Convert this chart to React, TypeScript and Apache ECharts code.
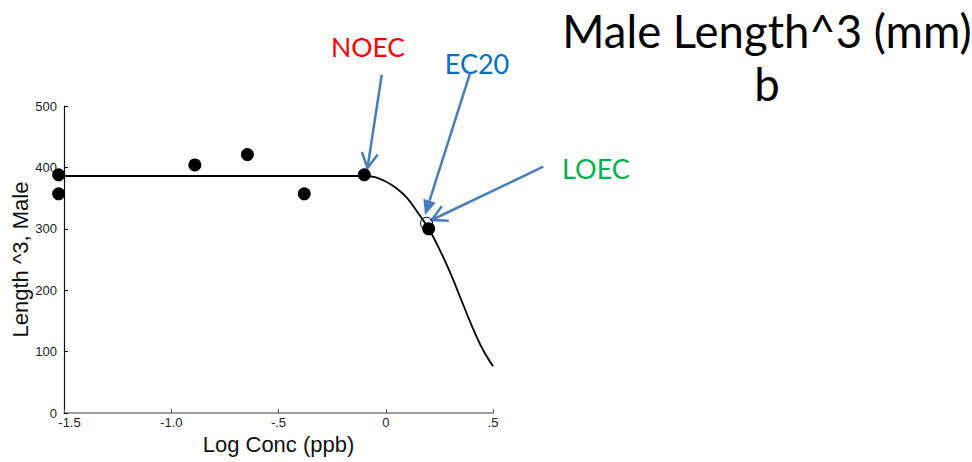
import React, { useEffect, useRef } from "react";
import * as echarts from "echarts";

const obsX = [-1.525, -1.525, -0.89, -0.645, -0.38, -0.1, 0.2];
const obsY = [388, 357, 404, 421, 357, 388, 300];
const curveX = [-1.5, -1.0, -0.5, -0.1, -0.05, 0, 0.05, 0.1, 0.15, 0.2, 0.25, 0.3, 0.35, 0.4, 0.45, 0.5];
const curveY = [386, 386, 386, 386, 384, 377, 366, 350, 326, 300, 267, 229, 186, 143, 105, 76];
const ec20X = [0.19];
const ec20Y = [309];
const xTicks = [-1.5, -1.0, -0.5, 0, 0.5];
const xTickLabels = ["-1.5", "-1.0", "-.5", "0", ".5"];
const yTicks = [0, 100, 200, 300, 400, 500];

const ARROW = "#4A7EBB";

function arrow(x1: number, y1: number, x2: number, y2: number, filled: boolean) {
  const dx = x2 - x1;
  const dy = y2 - y1;
  const len = Math.sqrt(dx * dx + dy * dy);
  const ux = dx / len;
  const uy = dy / len;
  const px = -uy;
  const py = ux;
  const hl = 15;
  const hw = filled ? 6.5 : 8;
  const bx = x2 - ux * hl;
  const by = y2 - uy * hl;
  const els: any[] = [];
  const shaftEndX = filled ? bx : x2;
  const shaftEndY = filled ? by : y2;
  els.push({
    type: "line",
    shape: { x1, y1, x2: shaftEndX, y2: shaftEndY },
    style: { stroke: ARROW, lineWidth: 2.5 },
  });
  if (filled) {
    els.push({
      type: "polygon",
      shape: {
        points: [
          [x2, y2],
          [bx + px * hw, by + py * hw],
          [bx - px * hw, by - py * hw],
        ],
      },
      style: { fill: ARROW },
    });
  } else {
    els.push({
      type: "polyline",
      shape: {
        points: [
          [bx + px * hw, by + py * hw],
          [x2, y2],
          [bx - px * hw, by - py * hw],
        ],
      },
      style: { stroke: ARROW, lineWidth: 2.5, fill: "none" },
    });
  }
  return els;
}

export default function App() {
  const ref = useRef<HTMLDivElement>(null);
  useEffect(() => {
    if (!ref.current) return;
    const chart = echarts.init(ref.current, undefined, { renderer: "svg" });
    const curve = curveX.map((x, i) => [x, curveY[i]]);
    const obs = obsX.map((x, i) => [x, obsY[i]]);
    const ec = ec20X.map((x, i) => [x, ec20Y[i]]);
    const axisFont = "Liberation Sans";
    chart.setOption({
      animation: false,
      backgroundColor: "#ffffff",
      grid: { left: 64, top: 106, right: 479, bottom: 49, containLabel: false },
      xAxis: {
        type: "value",
        min: -1.5,
        max: 0.5,
        interval: 0.5,
        splitLine: { show: false },
        axisLine: { show: true, onZero: false, lineStyle: { color: "#7f7f7f", width: 1.5 } },
        axisTick: { show: true, inside: true, length: 4, lineStyle: { color: "#555" } },
        axisLabel: {
          color: "#222",
          fontFamily: axisFont,
          fontSize: 13,
          margin: 3,
          formatter: (v: number) => {
            const i = xTicks.findIndex((t) => Math.abs(t - v) < 1e-6);
            if (i < 0) return "";
            return i === 0 ? "{first|" + xTickLabels[i] + "}" : xTickLabels[i];
          },
          rich: {
            first: { fontFamily: axisFont, fontSize: 13, color: "#222", padding: [0, 0, 0, 11] },
          },
        },
        name: "Log Conc (ppb)",
        nameLocation: "middle",
        nameGap: 16,
        nameTextStyle: { fontFamily: axisFont, fontSize: 22, color: "#111" },
      },
      yAxis: {
        type: "value",
        min: yTicks[0],
        max: yTicks[yTicks.length - 1],
        interval: 100,
        splitLine: { show: false },
        axisLine: { show: true, onZero: false, lineStyle: { color: "#111", width: 1.2 } },
        axisTick: { show: true, inside: true, length: 4, lineStyle: { color: "#111" } },
        axisLabel: { color: "#222", fontFamily: axisFont, fontSize: 13, margin: 7 },
        name: "Length ^3, Male",
        nameLocation: "middle",
        nameGap: 30,
        nameTextStyle: { fontFamily: axisFont, fontSize: 22, color: "#111" },
      },
      series: [
        {
          type: "line",
          data: curve,
          smooth: 0.4,
          symbol: "none",
          lineStyle: { color: "#000", width: 1.8 },
          z: 2,
        },
        {
          type: "scatter",
          data: ec,
          symbol: "circle",
          symbolSize: 12,
          itemStyle: { color: "rgba(255,255,255,0)", borderColor: "#000", borderWidth: 1, opacity: 1 },
          z: 3,
          clip: false,
        },
        {
          type: "scatter",
          data: obs,
          symbol: "circle",
          symbolSize: 13,
          itemStyle: { color: "#000", opacity: 1 },
          z: 4,
          clip: false,
        },
      ],
      graphic: [
        {
          type: "text",
          x: 767,
          y: 30,
          style: {
            text: "Male Length^3 (mm)",
            fontFamily: "Lato",
            fontSize: 45.5,
            fill: "#000",
            textAlign: "center",
            textVerticalAlign: "middle",
          },
        },
        {
          type: "text",
          x: 767,
          y: 83,
          style: {
            text: "b",
            fontFamily: "Lato",
            fontSize: 45.5,
            fill: "#000",
            textAlign: "center",
            textVerticalAlign: "middle",
          },
        },
        {
          type: "text",
          x: 368,
          y: 47,
          style: { text: "NOEC", fontFamily: "Lato", fontSize: 26.5, fill: "#FF0000", textAlign: "center", textVerticalAlign: "middle" },
        },
        {
          type: "text",
          x: 477,
          y: 63,
          style: { text: "EC20", fontFamily: "Lato", fontSize: 27, fill: "#0070C0", textAlign: "center", textVerticalAlign: "middle" },
        },
        {
          type: "text",
          x: 596,
          y: 168,
          style: { text: "LOEC", fontFamily: "Lato", fontSize: 27, fill: "#00B050", textAlign: "center", textVerticalAlign: "middle" },
        },
        ...arrow(381.7, 75, 367.5, 168, false),
        ...arrow(470, 73.3, 425, 215, true),
        ...arrow(543.3, 166.7, 431.7, 220, false),
      ],
    });
    return () => chart.dispose();
  }, []);
  return (
    <div
      ref={ref}
      style={{ position: "fixed", left: 0, top: 0, width: 972, height: 462, background: "#fff" }}
    />
  );
}
